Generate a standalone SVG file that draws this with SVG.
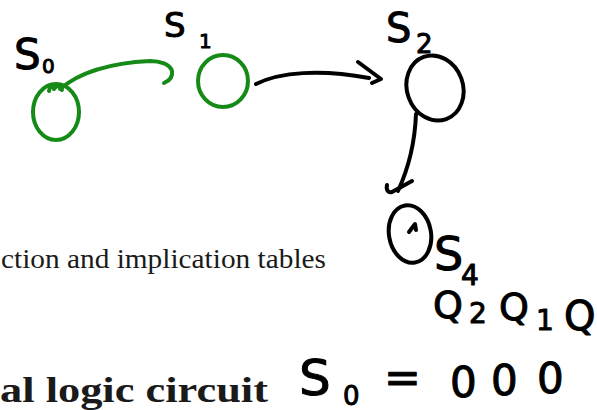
<svg xmlns="http://www.w3.org/2000/svg" width="597" height="410" viewBox="0 0 597 410">
<style>
.ink{fill:none;stroke:#000;stroke-width:4;stroke-linecap:round;stroke-linejoin:round}
.grn{fill:none;stroke:#168a16;stroke-width:4;stroke-linecap:round;stroke-linejoin:round}
.hw{font-family:"DejaVu Sans","Liberation Sans",sans-serif;fill:#000;stroke:#000;stroke-width:1;stroke-linejoin:round}
.print{font-family:"Liberation Serif","DejaVu Serif",serif;fill:#1a1a1a}
</style>
<rect width="597" height="410" fill="#fff"/>
<g id="text-print">
<text class="print" x="1" y="268" font-size="27" textLength="325" lengthAdjust="spacingAndGlyphs">ction and implication tables</text>
<text class="print" x="0" y="402" font-size="36" font-weight="bold" textLength="268" lengthAdjust="spacingAndGlyphs">al logic circuit</text>
</g>
<g id="connectors">
<path class="grn" d="M60,89 C80,72 110,63 150,61 C160,61 170,64 172,71 C173,77 169,81 164,83"/>
<path class="ink" d="M256,84 C280,72 320,69 369,78"/>
<path class="ink" d="M358,62 L381,79 L372,83"/>
<path class="ink" d="M416,114 C415,140 410,165 398,191"/>
<path class="ink" d="M387,185 C386,190 388,193 392,192 L412,181"/>
</g>
<g id="node-s0">
<ellipse class="grn" cx="56" cy="112" rx="23" ry="28"/>
<path class="grn" d="M49,91 C50,86 53,84 54,89 C57,85 61,85 62,90"/>
<text class="hw" x="14" y="69" font-size="42">S<tspan x="42" y="73" font-size="20">0</tspan></text>
</g>
<g id="node-s1">
<ellipse class="grn" cx="223" cy="81" rx="25" ry="26"/>
<text class="hw" x="164" y="37" font-size="34">S<tspan x="199" y="48" font-size="20">1</tspan></text>
</g>
<g id="node-s2">
<ellipse class="ink" cx="435" cy="88" rx="28" ry="33" transform="rotate(-20 435 88)"/>
<text class="hw" x="386" y="42" font-size="40">S<tspan x="416" y="53" font-size="26">2</tspan></text>
</g>
<g id="node-s4">
<ellipse class="ink" cx="410" cy="234" rx="21" ry="29" transform="rotate(-10 410 234)"/>
<path class="ink" d="M409,232 L415,224 L416,230" stroke-width="3"/>
<text class="hw" x="434" y="270" font-size="46">S<tspan x="461" y="285" font-size="28">4</tspan></text>
</g>
<g id="label-q">
<text class="hw" x="433" y="318" font-size="38">Q<tspan x="469" y="323" font-size="28">2</tspan><tspan x="499" y="320" font-size="38">Q</tspan><tspan x="536" y="330" font-size="28">1</tspan><tspan x="564" y="330" font-size="40">Q</tspan></text>
</g>
<g id="label-s0-code">
<text class="hw" x="299" y="395" font-size="50">S<tspan x="343" y="405" font-size="26">0</tspan></text>
<text class="hw" x="384" y="393" font-size="44">=</text>
<text class="hw" x="450" y="397" font-size="42">0<tspan x="491" y="395">0</tspan><tspan x="537" y="393">0</tspan></text>
</g>
</svg>
